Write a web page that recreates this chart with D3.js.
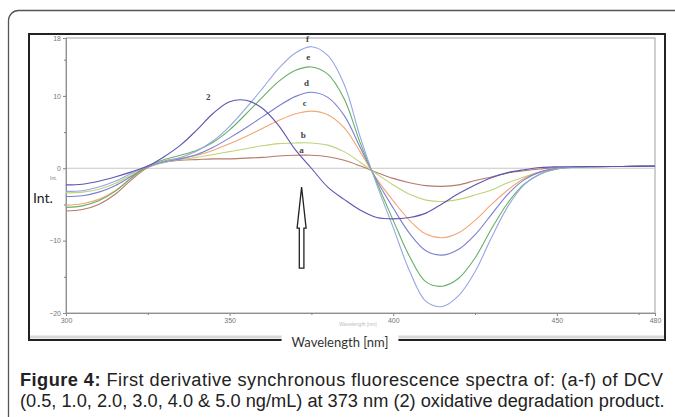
<!DOCTYPE html>
<html><head><meta charset="utf-8">
<script src="https://cdn.jsdelivr.net/npm/d3@7"></script>
<style>html,body{margin:0;padding:0;background:#fff;}svg{display:block;}</style>
</head><body>
<svg id="chart" width="675" height="417"></svg>
<script>
// ---- data ----
const wavelengths = [300,305,310,315,320,325,330,335,340,345,350,355,360,365,370,375,380,385,390,395,400,405,410,415,420,425,430,435,440,445,450,460,470,480];
const seriesA = [-5.9,-5.7,-5.0,-3.6,-1.6,0.1,0.8,1.1,1.2,1.3,1.3,1.4,1.5,1.7,1.8,1.8,1.6,1.1,0.3,-0.6,-1.4,-2.0,-2.4,-2.5,-2.3,-1.7,-1.2,-0.65,-0.35,-0.1,0.1,0.2,0.25,0.3];
const seriesB = [-3.4,-3.3,-2.9,-2.1,-0.9,0.2,0.8,1.2,1.5,1.9,2.3,2.7,3.1,3.4,3.5,3.5,3.2,2.3,0.8,-0.8,-2.3,-3.6,-4.4,-4.6,-4.3,-3.7,-3.0,-2.0,-1.2,-0.5,-0.1,0.2,0.25,0.3];
const seriesC = [-5.1,-4.9,-4.3,-3.1,-1.4,0.2,1.0,1.4,1.8,2.5,3.4,4.4,5.5,6.6,7.5,7.9,7.4,5.6,2.2,-1.5,-4.5,-7.2,-9.1,-9.6,-8.9,-7.2,-5.0,-3.0,-1.4,-0.5,0.0,0.2,0.25,0.3];
const seriesD = [-3.9,-3.8,-3.3,-2.4,-1.1,0.2,0.9,1.3,1.9,2.9,4.2,5.6,7.1,8.6,9.9,10.5,9.8,7.3,2.8,-1.7,-5.5,-9.0,-11.4,-12.0,-11.2,-9.2,-6.4,-3.6,-1.6,-0.5,0.0,0.2,0.25,0.3];
const seriesE = [-5.4,-5.2,-4.5,-3.2,-1.3,0.3,1.2,1.8,2.5,3.6,5.3,7.5,9.8,12.0,13.5,14.0,13.0,9.6,3.4,-2.0,-7.2,-12.2,-15.7,-16.3,-15.2,-12.4,-8.4,-4.8,-2.2,-0.8,-0.1,0.2,0.25,0.3];
const seriesF = [-3.2,-3.1,-2.6,-1.8,-0.7,0.3,1.0,1.5,2.4,3.8,5.8,8.3,11.0,13.8,15.9,16.8,15.6,11.6,4.2,-2.3,-8.2,-14.2,-18.4,-19.1,-17.6,-14.3,-9.6,-5.3,-2.3,-0.8,-0.1,0.2,0.25,0.3];
const series2 = [-2.3,-2.2,-1.8,-1.2,-0.5,0.3,1.6,3.2,5.3,7.6,9.2,9.4,8.3,5.9,2.6,0.0,-2.6,-4.3,-5.8,-6.8,-7.0,-6.8,-6.2,-4.9,-3.5,-2.3,-1.3,-0.6,-0.2,0.1,0.2,0.25,0.25,0.3];
const seriesNames = ["a","b","c","d","e","f","2"];
const xMajorTicks = [300,350,400,450,480];
const xMinorTicks = [325,375,425,475];
const yMajorTicks = [-20,-10,0,10,18];
const yMinorTicks = [-15,-5,5,15];
const captionBold = "Figure 4:";
const captionLine1 = " First derivative synchronous fluorescence spectra of: (a-f) of DCV";
const captionLine2 = "(0.5, 1.0, 2.0, 3.0, 4.0 & 5.0 ng/mL) at 373 nm (2) oxidative degradation product.";

// ---- styling / layout ----
const colors = {a:"#b67a6c", b:"#bcd47a", c:"#f3a677", d:"#7b7fd0", e:"#66b066", f:"#97a6e2", "2":"#5e55b0"};
const labelPos = {a:[372,2.1], b:[372.5,4.2], c:[373,8.6], d:[373.5,11.4], e:[374,15.0], f:[373.8,17.4], "2":[343.5,9.4]};
const allSeries = [seriesA,seriesB,seriesC,seriesD,seriesE,seriesF,series2];

const svg = d3.select("#chart");
const x = d3.scaleLinear().domain([300,480]).range([66,655]);
const y = d3.scaleLinear().domain([-20,18]).range([313,38]);

// outer rounded box
svg.append("rect").attr("x",8.5).attr("y",10.5).attr("width",720).attr("height",460).attr("rx",10)
  .attr("fill","none").attr("stroke","#555").attr("stroke-width",1.3);

// inner screenshot frame
svg.append("rect").attr("x",29).attr("y",34).attr("width",636).attr("height",306)
  .attr("fill","#fff").attr("stroke","#222").attr("stroke-width",2);
svg.append("line").attr("x1",30).attr("x2",664).attr("y1",337).attr("y2",337).attr("stroke","#d8d8d8").attr("stroke-width",3);

// plot box
svg.append("rect").attr("x",x(300)).attr("y",y(18)).attr("width",x(480)-x(300)).attr("height",y(-20)-y(18))
  .attr("fill","none").attr("stroke","#a0a0a0").attr("stroke-width",1);
// zero line
svg.append("line").attr("x1",x(300)).attr("x2",x(480)).attr("y1",y(0)).attr("y2",y(0)).attr("stroke","#c8c8c8").attr("stroke-width",1);

// axes
const yAxis = d3.axisLeft(y).tickValues(yMajorTicks).tickSize(3).tickPadding(2).tickFormat(d3.format("d"));
svg.append("g").attr("transform",`translate(${x(300)},0)`).call(yAxis);
svg.append("g").attr("transform",`translate(${x(300)},0)`).call(d3.axisLeft(y).tickValues(yMinorTicks).tickSize(2).tickFormat(""));
const xAxis = d3.axisBottom(x).tickValues(xMajorTicks).tickSize(3).tickPadding(2).tickFormat(d3.format("d"));
svg.append("g").attr("transform",`translate(0,${y(-20)})`).call(xAxis);
svg.append("g").attr("transform",`translate(0,${y(-20)})`).call(d3.axisBottom(x).tickValues(xMinorTicks).tickSize(2).tickFormat(""));
svg.selectAll(".domain").attr("stroke","#909090");
svg.selectAll(".tick line").attr("stroke","#808080");
svg.selectAll(".tick text").attr("fill","#777").style("font-family","Liberation Sans, Arial, sans-serif").style("font-size","7px");

// curves
const line = d3.line().x((d,i)=>x(wavelengths[i])).y(d=>y(d)).curve(d3.curveCatmullRom.alpha(0.5));
seriesNames.forEach((n,k)=>{
  svg.append("path").datum(allSeries[k]).attr("d",line).attr("fill","none")
    .attr("stroke",colors[n]).attr("stroke-width",1.1);
});

// curve labels
seriesNames.forEach(n=>{
  svg.append("text").attr("x",x(labelPos[n][0])).attr("y",y(labelPos[n][1])).attr("text-anchor","middle")
    .style("font-family","Liberation Serif, Times New Roman, serif").style("font-size","9px").style("font-weight","bold")
    .attr("fill","#444").text(n);
});

// arrow (hollow, pointing up at 372 nm)
const ax = x(372), aTop = y(-2.6), aBot = y(-13.8), aHead = aTop + 41;
svg.append("path")
  .attr("d",`M${ax},${aTop} L${ax+4.5},${aHead} L${ax+2.3},${aHead} L${ax+2.3},${aBot} L${ax-2.3},${aBot} L${ax-2.3},${aHead} L${ax-4.5},${aHead} Z`)
  .attr("fill","#fff").attr("stroke","#222").attr("stroke-width",1.3);

// faint instrument labels
svg.append("text").attr("x",50).attr("y",180).style("font-family","Liberation Sans, Arial, sans-serif").style("font-size","5px").attr("fill","#777").text("Int.");
svg.append("text").attr("x",358).attr("y",326).attr("text-anchor","middle").style("font-family","Liberation Sans, Arial, sans-serif").style("font-size","5px").attr("fill","#bbb").text("Wavelength [nm]");

// big "Int." over frame
const intBg = svg.append("rect").attr("fill","#fff");
const intT = svg.append("text").attr("x",33).attr("y",203).style("font-family","Lato, Open Sans, sans-serif").style("font-size","14px").attr("fill","#222").text("Int.");
const ib = intT.node().getBBox();
intBg.attr("x",ib.x-3).attr("y",ib.y-4).attr("width",ib.width+5).attr("height",ib.height+8);

// "Wavelength [nm]" over bottom frame
const wlBg = svg.append("rect").attr("fill","#fff");
const wl = svg.append("text").attr("x",340).attr("y",347).attr("text-anchor","middle").style("font-family","Lato, Open Sans, sans-serif").style("font-size","13px").attr("fill","#333").text("Wavelength [nm]");
const wb = wl.node().getBBox();
wlBg.attr("x",wb.x-10).attr("y",wb.y-2).attr("width",wb.width+20).attr("height",wb.height+4);

// caption
const capFont = "Liberation Sans, Arial, sans-serif";
const t1 = svg.append("text").attr("x",20).attr("y",386).style("font-family",capFont).style("font-size","14px").attr("fill","#222");
t1.append("tspan").style("font-weight","bold").text(captionBold);
t1.append("tspan").text(captionLine1);
const t2 = svg.append("text").attr("x",20).attr("y",407).style("font-family",capFont).style("font-size","14px").attr("fill","#222").text(captionLine2);
const target = 645;
const w2 = t2.node().getComputedTextLength();
const fs = 14*target/w2;
t1.style("font-size",fs+"px"); t2.style("font-size",fs+"px");
t1.attr("textLength",target-2).attr("lengthAdjust","spacing");
</script>
</body></html>
